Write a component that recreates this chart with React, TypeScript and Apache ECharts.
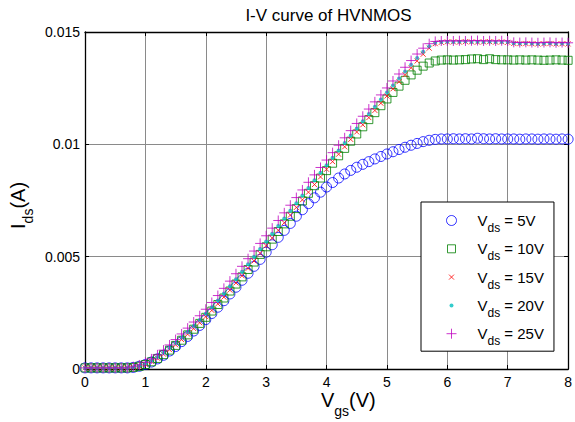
import React, { useEffect, useRef } from "react";
import * as echarts from "echarts";

const FONT = '"Liberation Sans", Arial, Helvetica, sans-serif';

const titleText = "I-V curve of HVNMOS";
const xTicks = [0, 1, 2, 3, 4, 5, 6, 7, 8];
const yTickLabels = ["0", "0.005", "0.01", "0.015"];
const vdsLabels = ["5V", "10V", "15V", "20V", "25V"];

const vgs = [
  0, 0.1, 0.2, 0.3, 0.4, 0.5, 0.6, 0.7, 0.8, 0.9,
  1, 1.1, 1.2, 1.3, 1.4, 1.5, 1.6, 1.7, 1.8, 1.9,
  2, 2.1, 2.2, 2.3, 2.4, 2.5, 2.6, 2.7, 2.8, 2.9,
  3, 3.1, 3.2, 3.3, 3.4, 3.5, 3.6, 3.7, 3.8, 3.9,
  4, 4.1, 4.2, 4.3, 4.4, 4.5, 4.6, 4.7, 4.8, 4.9,
  5, 5.1, 5.2, 5.3, 5.4, 5.5, 5.6, 5.7, 5.8, 5.9,
  6, 6.1, 6.2, 6.3, 6.4, 6.5, 6.6, 6.7, 6.8, 6.9,
  7, 7.1, 7.2, 7.3, 7.4, 7.5, 7.6, 7.7, 7.8, 7.9,
  8,
];

const ids5 = [
  0.00005, 0.00005, 0.00005, 0.00005, 0.00005, 0.00005, 0.00005, 0.00005, 0.00007, 0.00012,
  0.0002, 0.00031, 0.00045, 0.00061, 0.0008, 0.001, 0.00122, 0.00145, 0.00169, 0.00194,
  0.0022, 0.00247, 0.00275, 0.00304, 0.00334, 0.00364, 0.00395, 0.00426, 0.00457, 0.00488,
  0.0052, 0.00553, 0.00586, 0.00617, 0.00648, 0.0068, 0.00709, 0.00736, 0.00762, 0.00787,
  0.0081, 0.0083, 0.0085, 0.00868, 0.00884, 0.00898, 0.00911, 0.00923, 0.00935, 0.00946,
  0.00957, 0.00967, 0.00977, 0.00987, 0.00996, 0.01004, 0.01012, 0.01018, 0.01022, 0.01024,
  0.01024, 0.01025, 0.01024, 0.01025, 0.01024, 0.01027, 0.01025, 0.01024, 0.01025, 0.01024,
  0.01024, 0.01024, 0.01023, 0.01024, 0.01024, 0.01023, 0.01024, 0.01024, 0.01023, 0.01024,
  0.01023,
];

const ids10 = [
  0.00005, 0.00005, 0.00005, 0.00005, 0.00005, 0.00005, 0.00005, 0.00005, 0.00007, 0.00012,
  0.0002, 0.00032, 0.00047, 0.00064, 0.00084, 0.00105, 0.00128, 0.00152, 0.00177, 0.00203,
  0.0023, 0.00258, 0.00287, 0.00316, 0.00347, 0.00378, 0.0041, 0.00443, 0.00476, 0.0051,
  0.00544, 0.00578, 0.00612, 0.00646, 0.0068, 0.00714, 0.00748, 0.00782, 0.00816, 0.0085,
  0.00883, 0.00916, 0.00949, 0.00982, 0.01014, 0.01046, 0.01078, 0.0111, 0.01141, 0.01172,
  0.01202, 0.01231, 0.01259, 0.01285, 0.01309, 0.0133, 0.01348, 0.01362, 0.01371, 0.01375,
  0.01376, 0.01375, 0.01376, 0.01377, 0.0138, 0.01381, 0.01377, 0.01381, 0.01377, 0.01376,
  0.01376, 0.01375, 0.01376, 0.01375, 0.01376, 0.01375, 0.01374, 0.01375, 0.01376, 0.01375,
  0.01374,
];

const ids15 = [
  0.00005, 0.00005, 0.00005, 0.00005, 0.00005, 0.00005, 0.00005, 0.00005, 0.00007, 0.00012,
  0.00021, 0.00033, 0.00048, 0.00066, 0.00086, 0.00108, 0.00131, 0.00155, 0.0018, 0.00206,
  0.00233, 0.00261, 0.0029, 0.0032, 0.00351, 0.00383, 0.00415, 0.00448, 0.00481, 0.00515,
  0.00549, 0.00583, 0.00617, 0.00651, 0.00685, 0.00719, 0.00753, 0.00787, 0.00821, 0.00855,
  0.00889, 0.00923, 0.00956, 0.00989, 0.01022, 0.01055, 0.01087, 0.01119, 0.01151, 0.01183,
  0.01215, 0.01247, 0.01279, 0.0131, 0.01341, 0.01371, 0.01401, 0.01428, 0.01448, 0.01454,
  0.01456, 0.01456, 0.01455, 0.01457, 0.01456, 0.01455, 0.01456, 0.01457, 0.01455, 0.01456,
  0.01454, 0.01449, 0.01448, 0.01449, 0.01448, 0.01447, 0.01448, 0.01449, 0.01447, 0.01448,
  0.01447,
];

const ids20 = [
  0.00005, 0.00005, 0.00005, 0.00005, 0.00005, 0.00005, 0.00005, 0.00005, 0.00008, 0.00014,
  0.00024, 0.00037, 0.00053, 0.00072, 0.00093, 0.00116, 0.0014, 0.00165, 0.00191, 0.00218,
  0.00246, 0.00275, 0.00305, 0.00336, 0.00368, 0.004, 0.00433, 0.00466, 0.005, 0.00534,
  0.00568, 0.00602, 0.00636, 0.0067, 0.00704, 0.00738, 0.00772, 0.00806, 0.0084, 0.00874,
  0.00907, 0.0094, 0.00973, 0.01006, 0.01039, 0.01071, 0.01103, 0.01135, 0.01167, 0.01199,
  0.01231, 0.01262, 0.01293, 0.01324, 0.01354, 0.01384, 0.01412, 0.01437, 0.01452, 0.01456,
  0.01457, 0.01456, 0.01457, 0.01458, 0.01456, 0.01457, 0.01456, 0.01457, 0.01455, 0.01456,
  0.01455, 0.0145, 0.01449, 0.0145, 0.01449, 0.01448, 0.01449, 0.0145, 0.01448, 0.01449,
  0.01448,
];

const ids25 = [
  0.00005, 0.00005, 0.00005, 0.00005, 0.00005, 0.00005, 0.00005, 0.00005, 0.0001, 0.00018,
  0.0003, 0.00045, 0.00063, 0.00084, 0.00107, 0.00131, 0.00156, 0.00182, 0.00209, 0.00237,
  0.00266, 0.00296, 0.00327, 0.00359, 0.00391, 0.00424, 0.00457, 0.00491, 0.00525, 0.00559,
  0.00593, 0.00627, 0.00661, 0.00695, 0.00729, 0.00763, 0.00797, 0.00831, 0.00864, 0.00897,
  0.0093, 0.00963, 0.00996, 0.01029, 0.01061, 0.01093, 0.01125, 0.01157, 0.01189, 0.0122,
  0.01251, 0.01282, 0.01313, 0.01343, 0.01373, 0.01402, 0.01428, 0.01448, 0.01458, 0.0146,
  0.01461, 0.0146, 0.01461, 0.0146, 0.01461, 0.01462, 0.0146, 0.01461, 0.0146, 0.01461,
  0.0146, 0.01454, 0.01453, 0.01454, 0.01453, 0.01452, 0.01453, 0.01454, 0.01452, 0.01453,
  0.01452,
];

const SYM_SQUARE = "path://M0,0M10,10M1,1L9,1L9,9L1,9Z";
const SYM_X = "path://M0,0M10,10M2.5,2.5L7.5,7.5M7.5,2.5L2.5,7.5";
const SYM_DOT = "path://M0,0M10,10M5,3A2,2,0,1,1,5,7A2,2,0,1,1,5,3Z";
const SYM_PLUS = "path://M5,0L5,10M0,5L10,5";

const mainTxt = (text: string, x: number, y: number) => ({
  type: "text", x, y,
  style: { text, fontSize: 20, fontFamily: FONT, fill: "#000", textAlign: "left", textVerticalAlign: "middle", lineHeight: 18 },
});
const subTxt = (text: string, x: number, y: number) => ({
  type: "text", x, y,
  style: { text, fontSize: 14, fontFamily: FONT, fill: "#000", textAlign: "left", textVerticalAlign: "middle", lineHeight: 13 },
});

export default function App() {
  const ref = useRef<HTMLDivElement>(null);

  useEffect(() => {
    if (!ref.current) return;
    const chart = echarts.init(ref.current, null, { renderer: "svg" });

    const seriesDefs = [
      { vals: ids5, symbol: "circle", size: 10, style: { color: "rgba(0,0,0,0)", borderColor: "#0000ff", borderWidth: 1 } },
      { vals: ids10, symbol: SYM_SQUARE, size: 10, style: { color: "rgba(0,0,0,0)", borderColor: "#008000", borderWidth: 1 } },
      { vals: ids15, symbol: SYM_X, size: 10, style: { color: "rgba(0,0,0,0)", borderColor: "#ff0000", borderWidth: 1 } },
      { vals: ids20, symbol: SYM_DOT, size: 10, style: { color: "#00bfbf", borderWidth: 0 } },
      { vals: ids25, symbol: SYM_PLUS, size: 10, style: { color: "rgba(0,0,0,0)", borderColor: "#bf00bf", borderWidth: 1 } },
    ];

    const axisLine = { show: true, onZero: false, lineStyle: { color: "#000", width: 1.3 } };
    const axisTick = { show: true, inside: true, length: 4, lineStyle: { color: "#000", width: 1 } };
    const splitLine = { show: true, lineStyle: { color: "#8a8a8a", width: 1 } };

    const option = {
      animation: false,
      grid: { left: 85, right: 2, top: 32, bottom: 53, containLabel: false },
      xAxis: [
        {
          type: "value", min: xTicks[0], max: xTicks[xTicks.length - 1], interval: 1, position: "bottom",
          axisLine, axisTick, splitLine,
          axisLabel: { color: "#000", fontSize: 14, fontFamily: FONT, margin: 6, lineHeight: 14 },
        },
        {
          type: "value", min: xTicks[0], max: xTicks[xTicks.length - 1], interval: 1, position: "top",
          axisLine, axisTick, splitLine: { show: false }, axisLabel: { show: false },
        },
      ],
      yAxis: [
        {
          type: "value", min: 0, max: 0.015, interval: 0.005, position: "left",
          axisLine, axisTick, splitLine,
          axisLabel: {
            color: "#000", fontSize: 14, fontFamily: FONT, margin: 5,
            formatter: (v: number) => yTickLabels[Math.round(v / 0.005)] ?? String(v),
          },
        },
        {
          type: "value", min: 0, max: 0.015, interval: 0.005, position: "right",
          axisLine, axisTick, splitLine: { show: false }, axisLabel: { show: false },
        },
      ],
      legend: {
        orient: "vertical",
        left: 421,
        top: 202,
        padding: [5, 10, 4, 25],
        itemWidth: 42,
        itemHeight: 10,
        itemGap: 1.3,
        backgroundColor: "#fff",
        borderColor: "#000",
        borderWidth: 1,
        borderRadius: 0,
        itemStyle: { borderWidth: 1 },
        formatter: (name: string) => `{m|V}{s|ds}{m| = ${name.split("= ")[1]}}`,
        textStyle: {
          color: "#000",
          rich: {
            m: { fontSize: 15, fontFamily: FONT, color: "#000", lineHeight: 22 },
            s: { fontSize: 12, fontFamily: FONT, color: "#000", lineHeight: 22, padding: [15, 0, 0, 0] },
          },
        },
      },
      graphic: [
        {
          type: "text", x: 328.5, y: 15,
          style: { text: titleText, fontSize: 17, fontFamily: FONT, fill: "#000", textAlign: "center", textVerticalAlign: "middle" },
        },
        {
          type: "group", x: 321, y: 400,
          children: [mainTxt("V", 0, 0), subTxt("gs", 13.3, 10.6), mainTxt("(V)", 28.1, 0)],
        },
        {
          type: "group", x: 17.5, y: 205.5, rotation: Math.PI / 2,
          children: [mainTxt("I", -23.5, 0), subTxt("ds", -17.9, 10.6), mainTxt("(A)", -3.1, 0)],
        },
      ],
      series: seriesDefs.map((d, k) => ({
        type: "scatter",
        name: `Vds = ${vdsLabels[k]}`,
        xAxisIndex: 0,
        yAxisIndex: 0,
        symbol: d.symbol,
        symbolSize: d.size,
        itemStyle: d.style,
        data: vgs.map((v, i) => [v, d.vals[i]]),
        z: 2 + k,
      })),
    };

    chart.setOption(option as any);
    return () => chart.dispose();
  }, []);

  return (
    <div
      ref={ref}
      style={{ position: "fixed", left: 0, top: 0, width: 575, height: 422, background: "#fff" }}
    />
  );
}
